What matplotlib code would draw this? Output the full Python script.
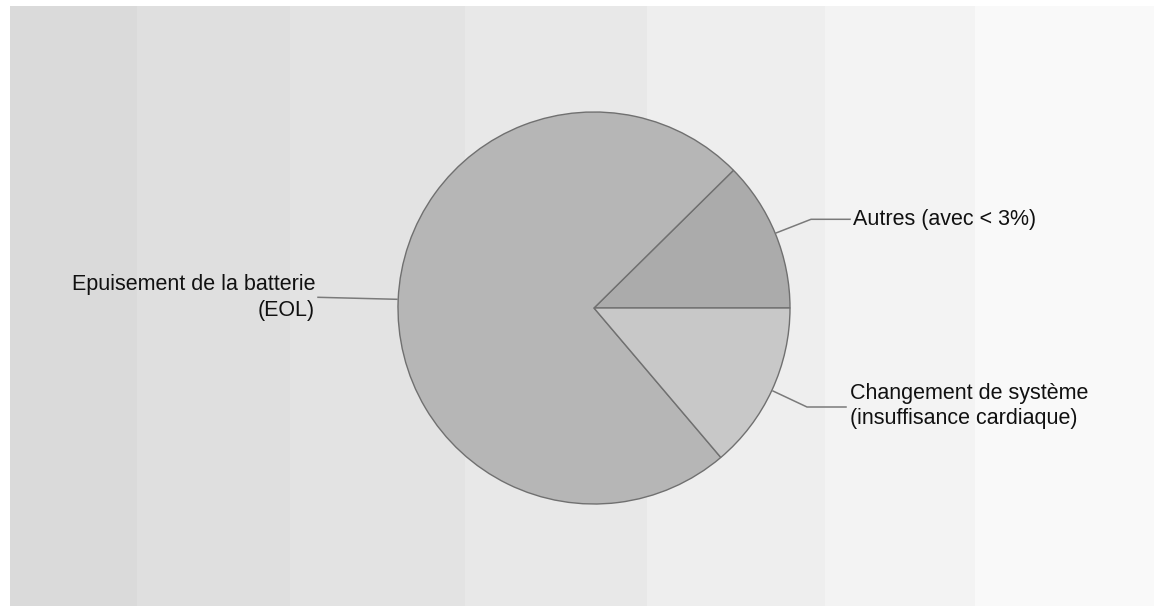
import matplotlib
matplotlib.use("Agg")
import matplotlib.pyplot as plt

# Data
labels = ["Autres (avec < 3%)", "Epuisement de la batterie\n(EOL)", "Changement de système\n(insuffisance cardiaque)"]
values = [12.4, 73.8, 13.8]
colors = ["#ababab", "#b6b6b6", "#c8c8c8"]

W, H = 1154, 606
fig = plt.figure(figsize=(W / 100, H / 100), dpi=100)
ax = fig.add_axes([0, 0, 1, 1])
ax.set_xlim(0, W)
ax.set_ylim(0, H)
ax.set_aspect("equal")
ax.axis("off")

def py(y):
    return H - y

# Background bands
band_edges = [10, 137, 290, 465, 647, 825, 975, 1154]
band_colors = ["#dadada", "#dfdfdf", "#e3e3e3", "#e8e8e8", "#eeeeee", "#f3f3f3", "#f9f9f9"]
for i, c in enumerate(band_colors):
    ax.fill_between([band_edges[i], band_edges[i + 1]], py(606), py(6), color=c, lw=0, zorder=0)

cx, cy, r = 594, 308, 196
ax.pie(values, colors=colors, startangle=0, counterclock=True,
       center=(cx, py(cy)), radius=r, frame=True,
       wedgeprops=dict(edgecolor="#707070", linewidth=1.0))
ax.set_xlim(0, W)
ax.set_ylim(0, H)
ax.axis("off")

font = dict(family="Liberation Sans", fontsize=15.5, color="#111111")
lc = "#7a7a7a"

# Autres
ax.plot([776, 811, 850], [py(233), py(219.3), py(219.3)], color=lc, lw=1.1, zorder=5)
ax.text(853, py(219), labels[0], ha="left", va="center", **font)

# Changement
ax.plot([773, 807, 846], [py(391), py(407), py(407)], color=lc, lw=1.1, zorder=5)
ax.text(850, py(406), labels[2], ha="left", va="center", linespacing=1.27, **font)

# Epuisement
ax.plot([318, 397], [py(297.3), py(299.3)], color=lc, lw=1.1, zorder=5)
ax.text(315, py(297.5), labels[1], ha="right", va="center", multialignment="right",
        linespacing=1.27, **font)

fig.savefig("out.png", dpi=100, facecolor="white")
